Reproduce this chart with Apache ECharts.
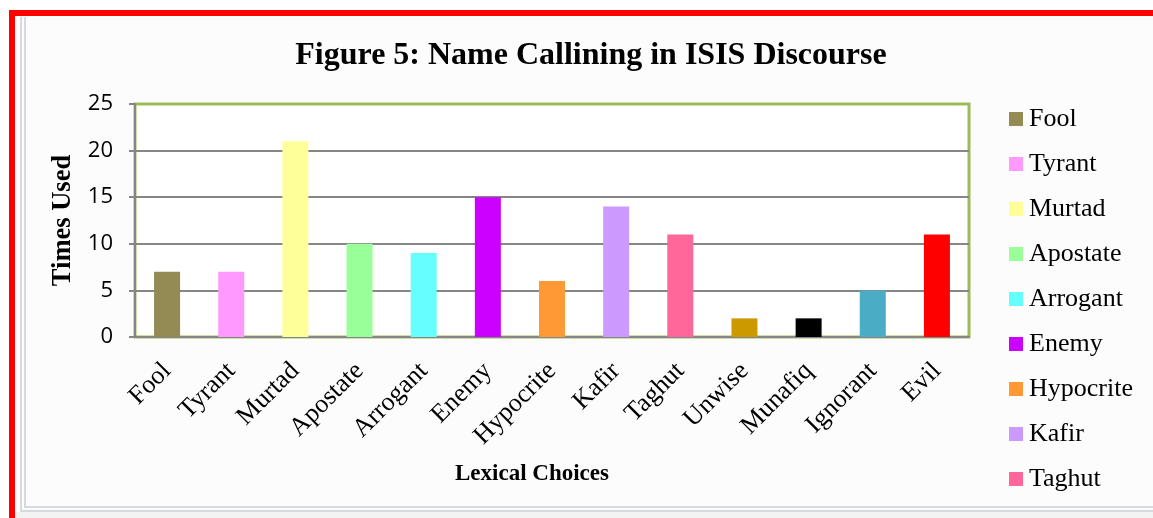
<!DOCTYPE html>
<html>
<head>
<meta charset="utf-8">
<script src="https://cdn.jsdelivr.net/npm/echarts@6/dist/echarts.min.js"></script>
<style>
html,body{margin:0;padding:0;background:#ffffff;width:1153px;height:518px;overflow:hidden;}
#red{position:absolute;left:9px;top:10px;width:1300px;height:700px;border-left:6px solid #ff0000;border-top:6px solid #ff0000;box-sizing:border-box;}
#inner{position:absolute;left:20px;top:17px;width:1300px;height:495px;border-left:6px double #d6d9de;border-bottom:6px double #d6d9de;background:#fcfcfc;box-sizing:border-box;}
#bottomfill{position:absolute;left:15px;top:512px;width:1200px;height:10px;background:#f3f3f4;}
#chart{position:absolute;left:0;top:0;width:1153px;height:505px;}
</style>
</head>
<body>
<div id="red"></div>
<div id="bottomfill"></div>
<div id="inner"></div>
<div id="chart"></div>
<script>
const categories = ["Fool","Tyrant","Murtad","Apostate","Arrogant","Enemy","Hypocrite","Kafir","Taghut","Unwise","Munafiq","Ignorant","Evil"];
const values = [7,7,21,10,9,15,6,14,11,2,2,5,11];
const colors = ["#948A54","#FF99FF","#FFFF99","#99FF99","#66FFFF","#CC00FF","#FF9933","#CC99FF","#FF6699","#CC9900","#000000","#4BACC6","#FF0000"];
const yTicks = [0,5,10,15,20,25];

const chart = echarts.init(document.getElementById('chart'), null, {renderer:'canvas'});
const series = categories.map((name, i) => ({
  name: name,
  type: 'bar',
  stack: 'all',
  barWidth: 26,
  itemStyle: {color: colors[i]},
  data: categories.map((c, j) => j === i ? values[i] : '-'),
  emphasis: {disabled: true}
}));

chart.setOption({
  animation: false,
  title: {
    text: 'Figure 5: Name Callining in ISIS Discourse',
    left: 586,
    textAlign: 'center',
    top: 35,
    textStyle: {fontFamily: 'Liberation Serif', fontWeight: 'bold', fontSize: 32, color: '#000'}
  },
  legend: {
    orient: 'vertical',
    left: 1004,
    top: 101,
    height: 800,
    itemWidth: 14,
    itemHeight: 14,
    itemGap: 19,
    icon: 'rect',
    textStyle: {fontFamily: 'Liberation Serif', fontSize: 26, lineHeight: 26, color: '#000', padding: [0,0,0,1]},
    data: categories
  },
  grid: {
    left: 135,
    right: 184,
    top: 104,
    height: 233,
    show: true,
    backgroundColor: '#ffffff',
    borderColor: '#9BBB59',
    borderWidth: 3
  },
  xAxis: {
    type: 'category',
    data: categories,
    name: 'Lexical Choices',
    nameLocation: 'middle',
    nameGap: 126,
    nameTextStyle: {fontFamily: 'Liberation Serif', fontWeight: 'bold', fontSize: 23, color: '#000', padding: [0,40,0,0]},
    axisLine: {show: true, lineStyle: {color: '#868686', width: 2}},
    axisTick: {show: false},
    axisLabel: {rotate: 45, interval: 0, margin: 30, fontFamily: 'Liberation Serif', fontSize: 26, color: '#000'}
  },
  yAxis: {
    type: 'value',
    min: 0,
    max: 25,
    interval: 5,
    name: 'Times Used',
    nameLocation: 'middle',
    nameGap: 58,
    nameTextStyle: {fontFamily: 'Liberation Serif', fontWeight: 'bold', fontSize: 26.5, color: '#000'},
    axisLine: {show: true, lineStyle: {color: '#868686', width: 2}},
    axisTick: {show: true, length: 6, lineStyle: {color: '#868686', width: 2}},
    axisLabel: {margin: 22, fontFamily: 'Open Sans', fontSize: 22, color: '#000',
      formatter: v => yTicks.includes(v) ? String(v) : ''},
    splitLine: {show: true, showMaxLine: false, showMinLine: false, lineStyle: {color: '#868686', width: 2}}
  },
  series: series
});
</script>
</body>
</html>
